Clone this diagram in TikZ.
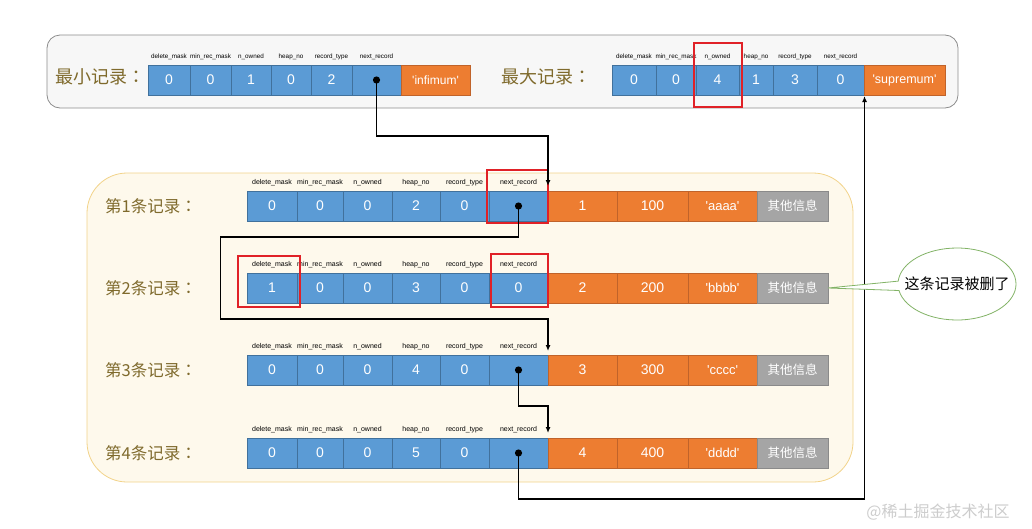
\documentclass[tikz,border=0pt]{standalone}
\usepackage{fontspec}
\setmainfont{Liberation Sans}
\newfontfamily\cjk{Noto Sans CJK SC}
\newfontfamily\cjktc{Noto Sans CJK TC}
\usetikzlibrary{arrows.meta,shapes.callouts,calc}
\definecolor{cblue}{HTML}{5B9BD5}
\definecolor{cbluedk}{HTML}{41719C}
\definecolor{corange}{HTML}{ED7D31}
\definecolor{corangedk}{HTML}{C0632A}
\definecolor{cgray}{HTML}{A5A5A5}
\definecolor{cgraydk}{HTML}{8A8A8A}
\definecolor{cred}{HTML}{E02127}
\definecolor{olive}{HTML}{7F6A2C}
\definecolor{yfill}{HTML}{FEF9EC}
\definecolor{ydraw}{HTML}{F2D38A}
\definecolor{gfill}{HTML}{F7F7F7}
\definecolor{gdraw}{HTML}{8C8C8C}
\definecolor{cgreen}{HTML}{82B366}
\newcommand\sq{\textquotesingle}
\newcommand\cc{{\cjktc ：}}
\tikzset{
 cell/.style={rectangle, inner sep=0, outer sep=0, minimum height=30, text=white, font=\fontsize{14}{14}\selectfont},
 bcell/.style={cell, fill=cblue, draw=cbluedk, line width=0.6},
 ocell/.style={cell, fill=corange, draw=corangedk, line width=0.6},
 gcell/.style={cell, fill=cgray, draw=cgraydk, line width=0.6, font=\cjk\fontsize{12.5}{12.5}\selectfont},
 fld/.style={inner sep=0, font=\fontsize{7}{7}\selectfont, text=black},
 tfld/.style={inner sep=0, font=\fontsize{6.3}{6.3}\selectfont, text=black},
 rowlab/.style={font=\cjk\fontsize{16.5}{16.5}\selectfont, text=olive, anchor=west, inner sep=0},
 toplab/.style={font=\cjk\fontsize{18}{18}\selectfont, text=olive, anchor=west, inner sep=0},
 hl/.style={draw=cred, line width=2},
 link/.style={draw=black, line width=1.6},
 tip/.style={-{Latex[length=6,width=5]}},
 wm/.style={font=\cjk\fontsize{16}{16}\selectfont, text=gray!40},
}
\newcommand\recrow[9]{%
 \foreach \a/\b/\t/\l [count=\i] in {247/297/#3/delete\_mask, 297/343/0/min\_rec\_mask, 343/392/0/n\_owned, 392/440/#4/heap\_no, 440/489/0/record\_type, 489/548/#5/next\_record}{
   \node[bcell, minimum width={\b-\a}] (#1c\i) at ({(\a+\b)/2},#2) {\t};
   \node[fld] (#1f\i) at ({(\a+\b)/2},#2-23) {\l};
 }
 \node[ocell, minimum width=69] (#1o1) at (582.5,#2) {#6};
 \node[ocell, minimum width=71] (#1o2) at (652.5,#2) {#7};
 \node[ocell, minimum width=69, font=\fontsize{13}{13}\selectfont] (#1o3) at (722.5,#2) {#8};
 \node[gcell, minimum width=71] (#1g) at (792.5,#2) {其他信息};
 \node[rowlab] (#1lab) at (105,#2) {#9};
}
\begin{document}
\begin{tikzpicture}[x=1pt,y=-1pt]
\useasboundingbox (0,0) rectangle (1032,528);
% backgrounds
\draw[fill=gfill, draw=gdraw, line width=0.8, rounded corners=13] (47,35) rectangle (958,108);
\draw[fill=yfill, draw=ydraw, line width=0.8, rounded corners=40] (87,173) rectangle (853,482);
% minimum record
\node[toplab] (minlab) at (55,77) {最小记录\cc};
\foreach \a/\b/\t/\l [count=\i] in {148/190/0/delete\_mask, 190/231/0/min\_rec\_mask, 231/271/1/n\_owned, 271/311/0/heap\_no, 311/352/2/record\_type, 352/401//next\_record}{
  \node[bcell, minimum width={\b-\a}] (m\i) at ({(\a+\b)/2},80) {\t};
  \node[tfld] (mf\i) at ({(\a+\b)/2},57) {\l};
}
\node[ocell, minimum width=69, font=\fontsize{12}{12}\selectfont] (inf) at (435.5,80) {\sq infimum\sq};
% maximum record
\node[toplab] (maxlab) at (501,77) {最大记录\cc};
\foreach \a/\b/\t/\l [count=\i] in {612/656/0/delete\_mask, 656/696/0/min\_rec\_mask, 696/739/4/n\_owned, 739/773/1/heap\_no, 773/817/3/record\_type, 817/864/0/next\_record}{
  \node[bcell, minimum width={\b-\a}] (x\i) at ({(\a+\b)/2},80) {\t};
  \node[tfld] (xf\i) at ({(\a+\b)/2},57) {\l};
}
\node[ocell, minimum width=81, font=\fontsize{12.5}{12.5}\selectfont] (sup) at (904.5,80) {\sq supremum\sq};
% user records
\recrow{ra}{206}{0}{2}{}{1}{100}{\sq aaaa\sq}{第1条记录\cc}
\recrow{rb}{288}{1}{3}{0}{2}{200}{\sq bbbb\sq}{第2条记录\cc}
\recrow{rc}{370}{0}{4}{}{3}{300}{\sq cccc\sq}{第3条记录\cc}
\recrow{rd}{453}{0}{5}{}{4}{400}{\sq dddd\sq}{第4条记录\cc}
% highlights
\draw[hl] (694,43) rectangle (742,107);
\draw[hl] (487,170) rectangle (548,223);
\draw[hl] (238,256) rectangle (300,307);
\draw[hl] (491,254) rectangle (548,307);
% pointers
\coordinate (mdot) at (m6.center);
\coordinate (adot) at (rac6.center);
\coordinate (cdot) at (rcc6.center);
\coordinate (ddot) at (rdc6.center);
\coordinate (in1) at (548,186);
\coordinate (in3) at (548,351);
\coordinate (in4) at (548,433);
\coordinate (supin) at (864.5,96);
\draw[link,tip] (mdot) -- ++(0,56) -| (in1);
\draw[link,tip] (adot) -- ++(0,31) -| ++(-298,82) -| (in3);
\draw[link,tip] (cdot) -- ++(0,36) -| (in4);
\draw[link,tip] (ddot) -- ++(0,46) -| (supin);
\foreach \p in {mdot,adot,cdot,ddot}{\fill (\p) circle (3.6);}
% callout
\node[ellipse callout, draw=cgreen, fill=white, line width=0.8, minimum width=118, minimum height=72, callout absolute pointer={(rbg.east)}] (note) at (957,284) {};
\node[font=\cjk\fontsize{15}{15}\selectfont, inner sep=0] (notetxt) at (note.center) {这条记录被删了};
% watermark
\node[wm] (wm1) at (938,512) {@稀土掘金技术社区};
\end{tikzpicture}
\end{document}
